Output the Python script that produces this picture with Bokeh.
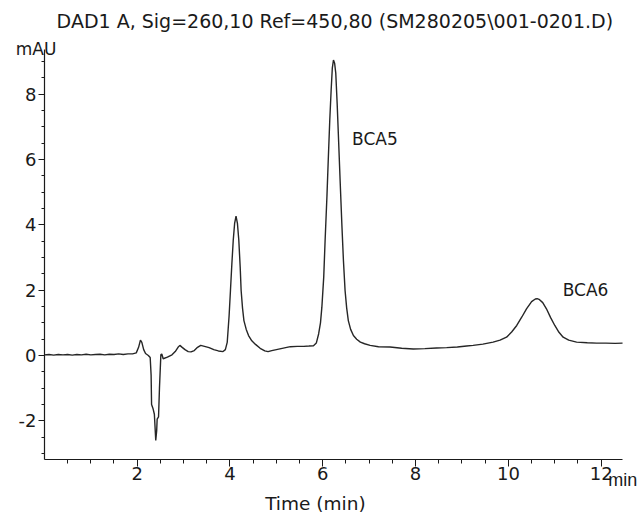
from bokeh.plotting import figure
from bokeh.models import Range1d, FixedTicker, Label, LinearAxis
from bokeh.embed import file_html
from bokeh.resources import INLINE

# ---- data ----
time_min = [0.00, 0.10, 0.20, 0.30, 0.40, 0.50, 0.60, 0.70, 0.80, 0.90, 1.00, 1.10, 1.20, 1.30,
            1.40, 1.50, 1.60, 1.70, 1.80, 1.90, 1.98, 2.03, 2.07, 2.10, 2.14, 2.18, 2.24, 2.28,
            2.30, 2.31, 2.34, 2.37, 2.40, 2.42, 2.43, 2.46, 2.48, 2.51, 2.53, 2.56, 2.65, 2.75,
            2.82, 2.88, 2.92, 2.97, 3.03, 3.10, 3.16, 3.23, 3.30, 3.37, 3.45, 3.55, 3.65, 3.75,
            3.85, 3.90, 3.94, 3.98, 4.01, 4.04, 4.07, 4.10, 4.13, 4.16, 4.19, 4.22, 4.24, 4.27,
            4.30, 4.35, 4.40, 4.47, 4.55, 4.65, 4.75, 4.82, 4.90, 5.00, 5.10, 5.20, 5.30, 5.45,
            5.59, 5.70, 5.80, 5.86, 5.91, 5.95, 5.98, 6.02, 6.05, 6.09, 6.12, 6.15, 6.18, 6.205,
            6.23, 6.255, 6.28, 6.31, 6.34, 6.375, 6.41, 6.445, 6.48, 6.515, 6.55, 6.60, 6.66,
            6.73, 6.81, 6.90, 7.02, 7.20, 7.45, 7.70, 7.95, 8.20, 8.45, 8.67, 8.90, 9.10, 9.24,
            9.45, 9.67, 9.82, 9.96, 10.07, 10.18, 10.29, 10.39, 10.50, 10.58, 10.62, 10.66,
            10.74, 10.82, 10.91, 11.00, 11.09, 11.18, 11.30, 11.47, 11.70, 11.90, 12.10, 12.30,
            12.46]
signal_mau = [0.02, 0.03, 0.01, 0.03, 0.02, 0.03, 0.01, 0.03, 0.02, 0.04, 0.02, 0.03, 0.04, 0.02,
              0.04, 0.03, 0.05, 0.03, 0.05, 0.05, 0.08, 0.25, 0.47, 0.40, 0.18, 0.06, 0.00, -0.06,
              -0.60, -1.50, -1.62, -1.80, -2.60, -2.30, -1.95, -1.88, -1.00, 0.02, 0.05, -0.10,
              -0.05, 0.02, 0.12, 0.25, 0.31, 0.25, 0.18, 0.12, 0.11, 0.15, 0.25, 0.31, 0.28, 0.24,
              0.18, 0.14, 0.12, 0.18, 0.40, 1.20, 1.99, 2.80, 3.53, 4.05, 4.27, 4.05, 3.53, 2.70,
              1.99, 1.45, 1.07, 0.80, 0.61, 0.45, 0.34, 0.22, 0.14, 0.12, 0.15, 0.18, 0.21, 0.24,
              0.27, 0.28, 0.28, 0.29, 0.30, 0.38, 0.66, 1.00, 1.48, 2.40, 3.53, 4.90, 6.08, 7.20,
              8.13, 8.80, 9.05, 8.95, 8.64, 7.70, 6.60, 5.30, 4.04, 2.90, 1.99, 1.45, 1.07, 0.80,
              0.61, 0.50, 0.41, 0.36, 0.31, 0.27, 0.26, 0.22, 0.20, 0.21, 0.23, 0.24, 0.26, 0.29,
              0.31, 0.35, 0.41, 0.47, 0.56, 0.72, 0.92, 1.18, 1.43, 1.65, 1.73, 1.74, 1.72, 1.62,
              1.43, 1.16, 0.92, 0.71, 0.56, 0.47, 0.41, 0.39, 0.38, 0.38, 0.37, 0.38]

x_major_ticks = [2, 4, 6, 8, 10, 12]
x_minor_ticks = [0.5, 1, 1.5, 2.5, 3, 3.5, 4.5, 5, 5.5, 6.5, 7, 7.5, 8.5, 9, 9.5, 10.5, 11, 11.5]
y_major_ticks = [-2, 0, 2, 4, 6, 8]
y_tick_labels = ["-2", "0", "2", "4", "6", "8"]
y_minor_ticks = [-3, -2.5, -1.5, -1, -0.5, 0.5, 1, 1.5, 2.5, 3, 3.5, 4.5, 5, 5.5, 6.5, 7, 7.5,
                 8.5, 9]
x_axis_extent = (0, 12.46)
y_axis_extent = (-3.19, 9.36)

peak_names = ["BCA5", "BCA6"]
peak_label_x = [6.63, 11.17]
peak_label_y = [6.63, 2.02]

title_text = "DAD1 A, Sig=260,10 Ref=450,80 (SM280205\\001-0201.D)"

FONT = "DejaVu Sans"
INK = "#1a1a1a"

p = figure(width=640, height=516, output_backend="svg", toolbar_location=None,
           x_range=Range1d(-0.946, 12.847), y_range=Range1d(-4.931, 10.873),
           x_axis_location=None, y_axis_location=None,
           min_border_left=0, min_border_right=0, min_border_top=0, min_border_bottom=0)
p.background_fill_color = "white"
p.border_fill_color = "white"
p.outline_line_color = None
p.grid.visible = False

p.line(time_min, signal_mau, line_color="#262626", line_width=1.4)

xaxis = LinearAxis(fixed_location=y_axis_extent[0], bounds=x_axis_extent,
                   ticker=FixedTicker(ticks=x_major_ticks, minor_ticks=x_minor_ticks))
yaxis = LinearAxis(fixed_location=x_axis_extent[0], bounds=y_axis_extent,
                   ticker=FixedTicker(ticks=y_major_ticks, minor_ticks=y_minor_ticks))
yaxis.major_label_overrides = {t: s for t, s in zip(y_major_ticks, y_tick_labels)}
for ax in (xaxis, yaxis):
    ax.axis_line_color = INK
    ax.axis_line_width = 1.2
    ax.major_tick_line_color = INK
    ax.minor_tick_line_color = INK
    ax.major_tick_in = 0
    ax.minor_tick_in = 0
    ax.major_label_text_font = FONT
    ax.major_label_text_font_size = "18px"
    ax.major_label_text_color = INK

xaxis.major_tick_out = 7
xaxis.minor_tick_out = 4
xaxis.major_label_standoff = 0
yaxis.major_tick_out = 6
yaxis.minor_tick_out = 3
yaxis.major_label_standoff = 2
p.add_layout(xaxis, "below")
p.add_layout(yaxis, "left")

def add_text(x, y, txt, size, align="left", baseline="middle", font=FONT):
    p.add_layout(Label(x=x, y=y, text=txt, text_font=font, text_font_size=size,
                       text_color=INK, text_align=align, text_baseline=baseline))

add_text(6.26, 10.26, title_text, "19px", align="center")
add_text(-0.18, 9.39, "mAU", "17px", align="center")
add_text(12.15, -3.80, "min", "18px", baseline="alphabetic", font="Liberation Sans")
add_text(5.84, -4.54, "Time (min)", "18.5px", align="center")
for name, lx, ly in zip(peak_names, peak_label_x, peak_label_y):
    add_text(lx, ly, name, "17px")

open("out.html", "w").write(file_html(p, INLINE))
